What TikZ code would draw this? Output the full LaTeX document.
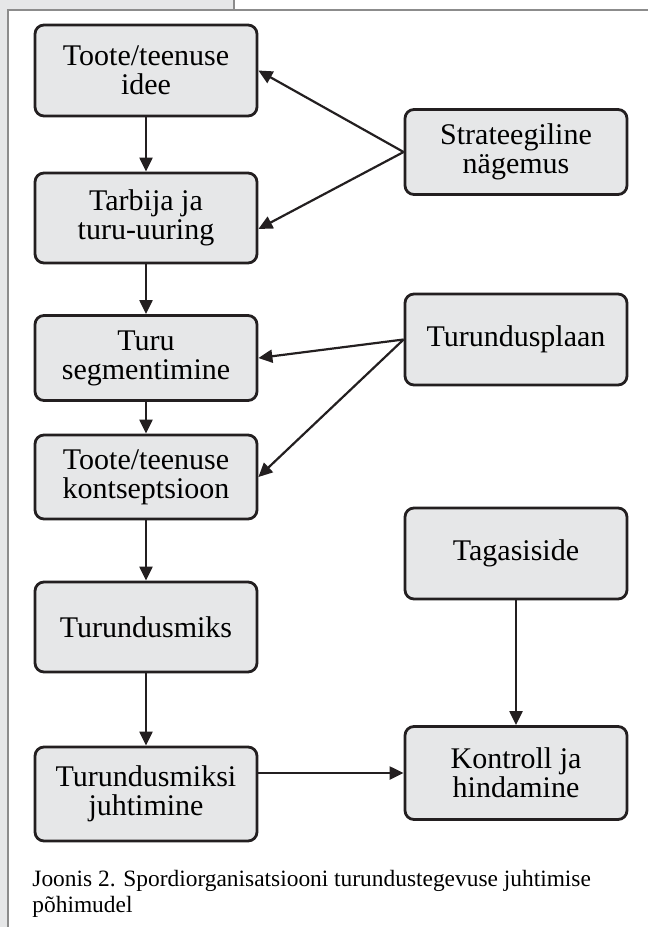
\documentclass[tikz,border=0pt]{standalone}
\usepackage{fontspec}
\setmainfont{Liberation Serif}
\usetikzlibrary{arrows.meta}

\definecolor{kastihall}{HTML}{E6E7E8}
\definecolor{joon}{HTML}{231F20}
\definecolor{raamihall}{HTML}{8C8C8C}

\begin{document}
\begin{tikzpicture}[x=0.5pt,y=-0.5pt,
  kast/.style={draw=joon, fill=kastihall, line width=1.4pt, rounded corners=4.5pt,
    minimum width=111pt, align=center, inner sep=0pt,
    font=\fontsize{15}{14.5}\selectfont},
  nool/.style={draw=joon, line width=1.1pt, -{Triangle[length=7pt,width=6.5pt]}}]
\useasboundingbox (0,0) rectangle (648,927);

% lehe raam
\fill[kastihall] (0,0) rectangle (8,927);
\fill[kastihall] (0,0) rectangle (234,10);
\draw[raamihall, line width=0.7pt] (234,0) -- (234,10) (648,10) -- (8,10) -- (8,927);

% vasak tulp
\node[kast, minimum height=45.5pt] (idee) at (146,70.5) {Toote/teenuse\\idee};
\node[kast, minimum height=45pt] (uuring) at (146,218) {Tarbija ja\\turu-uuring};
\node[kast, minimum height=42.5pt] (segment) at (146,358) {Turu\\segmentimine};
\node[kast, minimum height=42pt] (kontseptsioon) at (146,477) {Toote/teenuse\\kontseptsioon};
\node[kast, minimum height=45pt] (miks) at (146,627) {Turundusmiks};
\node[kast, minimum height=47pt] (juhtimine) at (146,794) {Turundusmiksi\\juhtimine};

% parem tulp
\node[kast, minimum height=42.5pt] (strateegia) at (516,152) {Strateegiline\\nägemus};
\node[kast, minimum height=45.5pt] (plaan) at (516,339.5) {Turundusplaan};
\node[kast, minimum height=45.5pt] (tagasiside) at (516,553.5) {Tagasiside};
\node[kast, minimum height=46.5pt] (kontroll) at (516,773) {Kontroll ja\\hindamine};

% nooled
\draw[nool] (idee) -- (uuring);
\draw[nool] (uuring) -- (segment);
\draw[nool] (segment) -- (kontseptsioon);
\draw[nool] (kontseptsioon) -- (miks);
\draw[nool] (miks) -- (juhtimine);
\draw[nool] (strateegia.west) -- (idee.east);
\draw[nool] (strateegia.west) -- ([yshift=-5.5pt]uuring.east);
\draw[nool] (plaan.west) -- (segment.east);
\draw[nool] (plaan.west) -- (kontseptsioon.east);
\draw[nool] (tagasiside) -- (kontroll);
\draw[nool] (kontroll.west -| juhtimine.east) -- (kontroll.west);

% allkiri
\node[anchor=north west, align=left, inner sep=0pt, font=\fontsize{11.7}{13}\selectfont]
  (joonis) at (32,870) {Joonis 2. Spordiorganisatsiooni turundustegevuse juhtimise\\põhimudel};
\end{tikzpicture}
\end{document}
